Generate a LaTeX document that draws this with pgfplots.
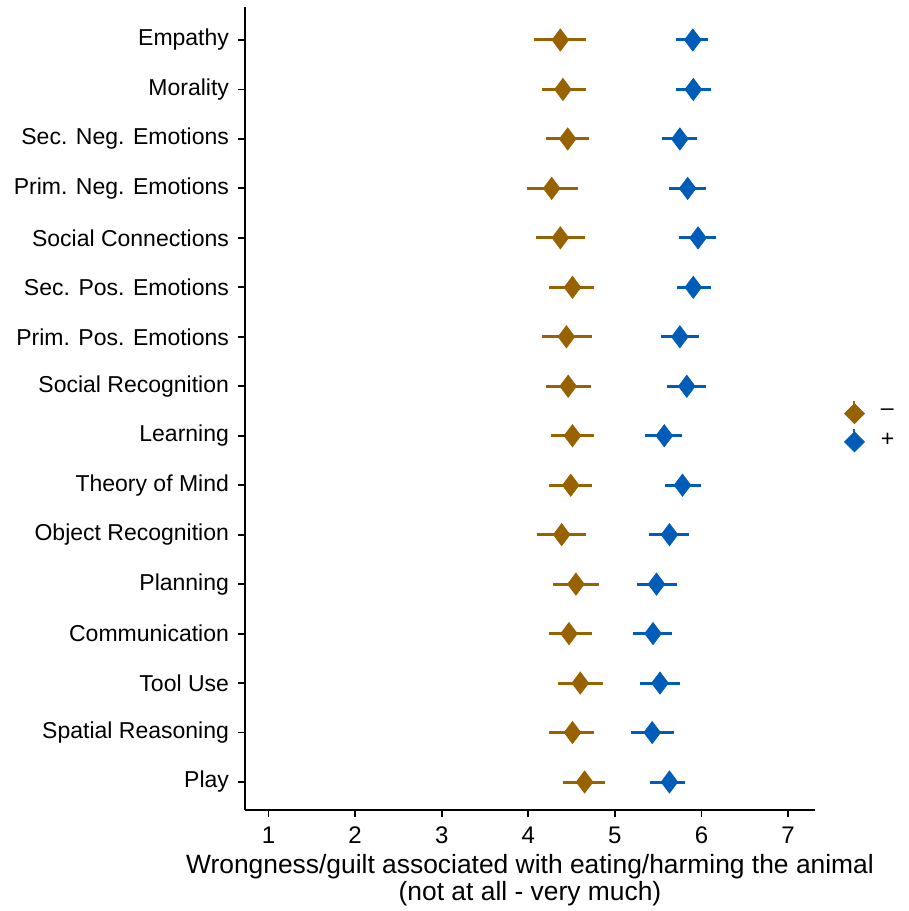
\documentclass[border=0pt]{standalone}
\usepackage{fontspec}
\setmainfont{Liberation Sans}
\usepackage{pgfplots}
\usepackage{pgfplotstable}
\pgfplotsset{compat=1.18}
\definecolor{cminus}{RGB}{153,98,0}
\definecolor{cplus}{RGB}{0,92,185}
\pgfplotstableread{
y x em ep
15 4.37 0.30 0.30
14 4.40 0.24 0.27
13 4.455 0.255 0.245
12 4.27 0.28 0.30
11 4.37 0.28 0.28
10 4.51 0.27 0.25
9 4.44 0.28 0.30
8 4.46 0.26 0.26
7 4.51 0.25 0.25
6 4.49 0.25 0.25
5 4.385 0.285 0.285
4 4.55 0.27 0.27
3 4.47 0.23 0.27
2 4.60 0.26 0.26
1 4.51 0.27 0.25
0 4.65 0.25 0.23
}\minus
\pgfplotstableread{
y x em ep
15 5.90 0.20 0.17
14 5.905 0.205 0.205
13 5.75 0.21 0.20
12 5.84 0.22 0.21
11 5.96 0.22 0.21
10 5.905 0.185 0.205
9 5.75 0.22 0.22
8 5.83 0.23 0.22
7 5.57 0.22 0.205
6 5.78 0.20 0.21
5 5.63 0.24 0.23
4 5.48 0.23 0.24
3 5.44 0.23 0.22
2 5.52 0.23 0.235
1 5.43 0.24 0.25
0 5.63 0.22 0.18
}\plus
\begin{document}
\fontsize{11.5}{14}\selectfont
\begin{tikzpicture}
\useasboundingbox (-122.5pt,-50.5pt) rectangle (332pt,405pt);
\begin{axis}[
  at={(0,0)}, anchor=south west,
  scale only axis,
  width=285pt, height=401.5pt,
  xmin=0.729, xmax=7.31,
  ymin=-0.566, ymax=15.667,
  axis x line*=bottom, axis y line*=left,
  axis line style={line width=0.9pt, black},
  tick style={line width=0.9pt, black},
  tick align=outside,
  major tick length=3.5pt,
  xtick={1,...,7},
  ytick={0,...,15},
  yticklabels={Play,Spatial Reasoning,Tool Use,Communication,Planning,Object Recognition,Theory of Mind,Learning,Social Recognition,Prim. Pos. Emotions,Sec. Pos. Emotions,Social Connections,Prim. Neg. Emotions,Sec. Neg. Emotions,Morality,Empathy},
  /pgf/number format/assume math mode=true,
  ticklabel style={font=\fontsize{11.5}{14}\selectfont},
  yticklabel style={xshift=-0.5pt},
  xticklabel style={font=\fontsize{12}{14}\selectfont, yshift=-1pt},
  xlabel={Wrongness/guilt associated with eating/harming the animal\\(not at all - very much)},
  xlabel style={align=center, font=\fontsize{13.2}{13.5}\selectfont, yshift=2.5pt},
  legend style={draw=none, at={(1.04,0.477)}, anchor=west, font=\fontsize{11.5}{14}\selectfont, row sep=2pt},
  legend cell align=left,
  clip=false,
]
\addplot[only marks, mark=diamond*, mark size=5.5pt, color=cminus,
  legend image code/.code={\fill[rotate around={45:(0.3cm,0pt)}] (0.3cm-3.5pt,-3.5pt) rectangle (0.3cm+3.5pt,3.5pt); \draw[line width=1pt] (0.3cm,4pt) -- (0.3cm,6.5pt);},
  error bars/.cd, x dir=both, x explicit, error mark=none,
  error bar style={line width=1.5pt, cminus}]
  table[x=x, y=y, x error plus=ep, x error minus=em]{\minus};
\addlegendentry{\hspace{6pt}–}
\addplot[only marks, mark=diamond*, mark size=5.5pt, color=cplus,
  legend image code/.code={\fill[rotate around={45:(0.3cm,0pt)}] (0.3cm-3.5pt,-3.5pt) rectangle (0.3cm+3.5pt,3.5pt); \draw[line width=1pt] (0.3cm,4pt) -- (0.3cm,6.5pt);},
  error bars/.cd, x dir=both, x explicit, error mark=none,
  error bar style={line width=1.5pt, cplus}]
  table[x=x, y=y, x error plus=ep, x error minus=em]{\plus};
\addlegendentry{\hspace{6pt}+}
\end{axis}
\end{tikzpicture}
\end{document}
